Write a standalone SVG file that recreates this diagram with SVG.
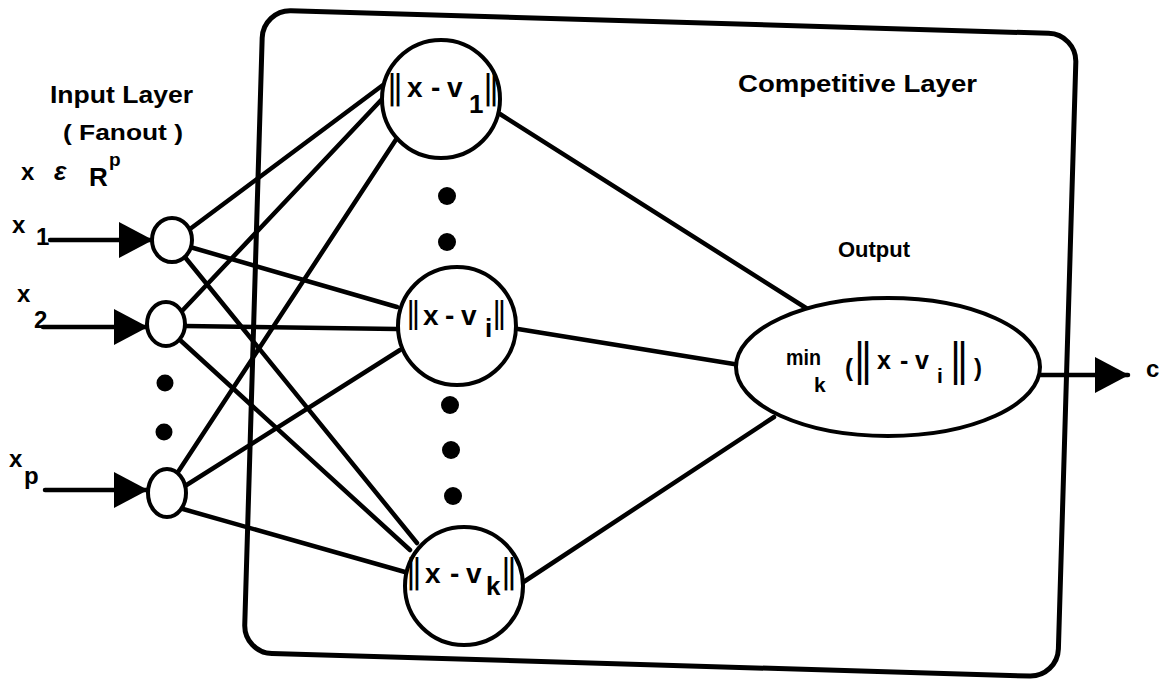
<svg xmlns="http://www.w3.org/2000/svg" width="1161" height="679" viewBox="0 0 1161 679">
<style>
.t{font-family:"Liberation Sans",Arial,sans-serif;font-weight:bold;fill:#000}
.n{fill:#fff;stroke:#000;stroke-width:4}
.c line{stroke:#000;stroke-width:4.5;stroke-linecap:round}
.dot{fill:#000}
</style>
<defs>
<marker id="ah" markerUnits="userSpaceOnUse" markerWidth="34" markerHeight="36" viewBox="0 0 34 36" refX="33" refY="18" orient="auto"><path d="M0,0 L34,18 L0,36 Z" fill="#000"/></marker>
</defs>
<rect width="1161" height="679" fill="#fff"/>
<g id="competitive-layer">
<rect x="263" y="10" width="814" height="643" rx="28" fill="none" stroke="#000" stroke-width="5" transform="rotate(1.7 263 10)"/>
<text class="t" x="738" y="92" font-size="24" textLength="239" lengthAdjust="spacingAndGlyphs">Competitive Layer</text>
</g>
<g id="input-labels">
<text class="t" x="50" y="103" font-size="23" textLength="143" lengthAdjust="spacingAndGlyphs">Input Layer</text>
<text class="t" x="63" y="140" font-size="22" textLength="120" lengthAdjust="spacingAndGlyphs">( Fanout )</text>
<text class="t" font-size="24"><tspan x="21" y="180">x</tspan><tspan x="54" y="180" font-size="26" font-style="italic">ε</tspan><tspan x="89" y="186" font-size="26">R</tspan><tspan x="109" y="166" font-size="19">p</tspan></text>
<text class="t" font-size="24"><tspan x="12" y="233">x</tspan><tspan x="36" y="245">1</tspan></text>
<text class="t" font-size="24"><tspan x="17" y="302">x</tspan><tspan x="34" y="328">2</tspan></text>
<text class="t" font-size="24"><tspan x="9" y="467">x</tspan><tspan x="24" y="484">p</tspan></text>
</g>
<g id="connectors" class="c">
<line x1="50" y1="240" x2="152" y2="240" marker-end="url(#ah)"/>
<line x1="43" y1="327" x2="147" y2="327" marker-end="url(#ah)"/>
<line x1="45" y1="490" x2="147" y2="490" marker-end="url(#ah)"/>
<line x1="190" y1="229" x2="383" y2="85"/>
<line x1="190" y1="247" x2="397" y2="307"/>
<line x1="184" y1="256" x2="417" y2="543"/>
<line x1="182" y1="311" x2="384" y2="97"/>
<line x1="185" y1="326" x2="397" y2="329"/>
<line x1="180" y1="340" x2="410" y2="550"/>
<line x1="178" y1="472" x2="397" y2="138"/>
<line x1="185" y1="486" x2="400" y2="350"/>
<line x1="183" y1="509" x2="405" y2="572"/>
<line x1="500" y1="114" x2="806" y2="308"/>
<line x1="518" y1="329" x2="740" y2="365"/>
<line x1="522" y1="583" x2="774" y2="417"/>
<line x1="1040" y1="375" x2="1128" y2="375" marker-end="url(#ah)"/>
</g>
<g id="input-x1"><ellipse class="n" cx="172" cy="240" rx="20" ry="22"/></g>
<g id="input-x2"><ellipse class="n" cx="166" cy="324" rx="19" ry="22"/></g>
<g id="input-xp"><ellipse class="n" cx="167" cy="493" rx="19" ry="24"/></g>
<g id="input-dots"><circle class="dot" cx="165" cy="383" r="8.5"/><circle class="dot" cx="164" cy="432" r="8.5"/></g>
<g id="node-v1">
<circle class="n" cx="441" cy="99" r="59"/>
<text class="t" font-size="36" transform="translate(389 99) scale(0.6 1)">||</text>
<text class="t" font-size="28"><tspan x="407" y="97">x</tspan><tspan x="431" y="97">-</tspan><tspan x="447" y="97">v</tspan><tspan x="469" y="113" font-size="26">1</tspan></text>
<text class="t" font-size="36" transform="translate(485 99) scale(0.6 1)">||</text>
</g>
<g id="mid-dots-1"><circle class="dot" cx="447" cy="196" r="9"/><circle class="dot" cx="447" cy="242" r="9"/></g>
<g id="node-vi">
<circle class="n" cx="457" cy="326" r="59"/>
<text class="t" font-size="32" transform="translate(408 323) scale(0.6 1)">||</text>
<text class="t" font-size="28"><tspan x="423" y="325">x</tspan><tspan x="445" y="325">-</tspan><tspan x="461" y="325">v</tspan><tspan x="485" y="337" font-size="26">i</tspan></text>
<text class="t" font-size="32" transform="translate(494 323) scale(0.6 1)">||</text>
</g>
<g id="mid-dots-2"><circle class="dot" cx="450" cy="405" r="9"/><circle class="dot" cx="451" cy="450" r="9"/><circle class="dot" cx="453" cy="496" r="9"/></g>
<g id="node-vk">
<circle class="n" cx="464" cy="586" r="59"/>
<text class="t" font-size="35" transform="translate(408 583) scale(0.6 1)">||</text>
<text class="t" font-size="28"><tspan x="425" y="583">x</tspan><tspan x="450" y="583">-</tspan><tspan x="466" y="583">v</tspan><tspan x="486" y="595" font-size="26">k</tspan></text>
<text class="t" font-size="35" transform="translate(503 583) scale(0.6 1)">||</text>
</g>
<g id="node-output">
<ellipse class="n" cx="888" cy="367" rx="152" ry="69"/>
<text class="t" x="838" y="257" font-size="22" textLength="72" lengthAdjust="spacingAndGlyphs">Output</text>
<text class="t" font-size="24"><tspan x="786" y="365" font-size="22" textLength="35" lengthAdjust="spacingAndGlyphs">min</tspan><tspan x="814" y="392" font-size="21">k</tspan><tspan x="845" y="376">(</tspan></text>
<text class="t" font-size="46" transform="translate(856 375) scale(0.55 1)">||</text>
<text class="t" font-size="25"><tspan x="877" y="369">x</tspan><tspan x="900" y="369">-</tspan><tspan x="915" y="369">v</tspan><tspan x="937" y="383" font-size="21">i</tspan></text>
<text class="t" font-size="46" transform="translate(952 375) scale(0.55 1)">||</text>
<text class="t" x="974" y="376" font-size="24">)</text>
</g>
<g id="output-c"><text class="t" x="1146" y="377" font-size="24">c</text></g>
</svg>
